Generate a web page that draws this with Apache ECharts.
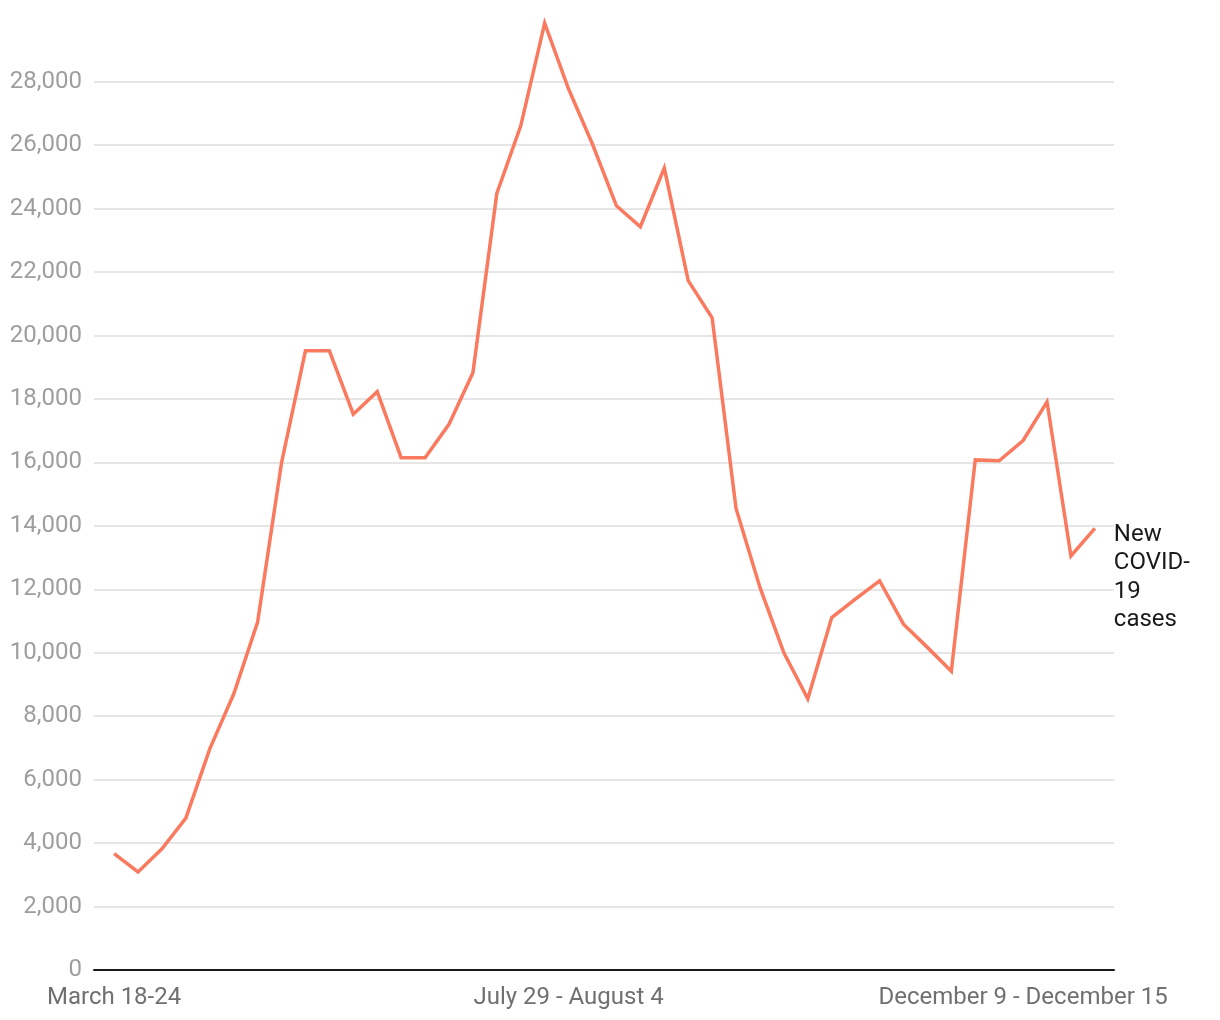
<!DOCTYPE html>
<html>
<head>
<meta charset="utf-8">
<script src="https://cdn.jsdelivr.net/npm/echarts@6/dist/echarts.min.js"></script>
<style>
  html, body { margin: 0; padding: 0; background: #ffffff; }
  #chart { width: 1220px; height: 1020px; }
</style>
</head>
<body>
<div id="chart"></div>
<script>
// Weekly periods (2020)
const weeks = [
  "March 18-24", "March 25-31", "April 1-7", "April 8-14", "April 15-21", "April 22-28",
  "April 29 - May 5", "May 6-12", "May 13-19", "May 20-26", "May 27 - June 2", "June 3-9",
  "June 10-16", "June 17-23", "June 24-30", "July 1-7", "July 8-14", "July 15-21",
  "July 22-28", "July 29 - August 4", "August 5-11", "August 12-18", "August 19-25",
  "August 26 - September 1", "September 2-8", "September 9-15", "September 16-22",
  "September 23-29", "September 30 - October 6", "October 7-13", "October 14-20",
  "October 21-27", "October 28 - November 3", "November 4-10", "November 11-17",
  "November 18-24", "November 25 - December 1", "December 2-8", "December 9 - December 15",
  "December 16 - December 22", "December 23 - December 29", "December 30 - January 5"
];

// New COVID-19 cases per week
const newCases = [
  3670, 3090, 3820, 4790, 6970, 8700, 10970, 15990, 19520, 19520, 17520, 18230,
  16150, 16150, 17200, 18830, 24480, 26610, 29850, 27770, 26030, 24090, 23430,
  25280, 21730, 20560, 14550, 12060, 10000, 8550, 11110, 11700, 12270, 10900,
  10170, 9420, 16080, 16050, 16690, 17910, 13050, 13920
];

// Which weeks get an x-axis label
const labeledWeeks = [0, 19, 38];

const seriesName = "New COVID-19 cases";

const chart = echarts.init(document.getElementById('chart'), null, { renderer: 'canvas' });

const option = {
  animation: false,
  backgroundColor: '#ffffff',
  textStyle: { fontFamily: 'Roboto, "Noto Sans", sans-serif' },
  grid: { left: 94, right: 106, top: 18.3, bottom: 50, containLabel: false },
  xAxis: {
    type: 'value',
    min: -0.84,
    max: 41.8,
    axisLine: { show: true, onZero: false, lineStyle: { color: '#1a1a1a', width: 2 } },
    axisTick: { show: false },
    splitLine: { show: false },
    axisLabel: {
      customValues: labeledWeeks,
      formatter: function (v) { return weeks[Math.round(v)]; },
      color: '#707070',
      fontSize: 24,
      fontFamily: 'Roboto',
      margin: 16,
      showMinLabel: true,
      showMaxLabel: true,
      hideOverlap: false
    }
  },
  yAxis: {
    type: 'value',
    min: 0,
    max: 30000,
    interval: 2000,
    axisLine: { show: false },
    axisTick: { show: false },
    splitLine: { show: true, showMinLine: false, showMaxLine: false, lineStyle: { color: '#e6e6e6', width: 2 } },
    axisLabel: {
      showMaxLabel: false,
      color: '#9e9e9e',
      fontSize: 24,
      fontFamily: 'Roboto',
      margin: 12,
      formatter: function (v) { return v.toLocaleString('en-US'); }
    }
  },
  series: [{
    name: seriesName,
    type: 'line',
    data: newCases.map(function (v, i) { return [i, v]; }),
    showSymbol: false,
    symbol: 'none',
    lineStyle: { color: '#fa7a5f', width: 3.5, join: 'miter' },
    itemStyle: { color: '#fa7a5f' },
    endLabel: {
      show: true,
      formatter: 'New\nCOVID-\n19\ncases',
      color: '#1a1a1a',
      fontSize: 24,
      fontFamily: 'Roboto',
      lineHeight: 28.5,
      distance: 19,
      align: 'left',
      verticalAlign: 'top',
      offset: [0, -8]
    }
  }]
};

chart.setOption(option);
</script>
</body>
</html>
